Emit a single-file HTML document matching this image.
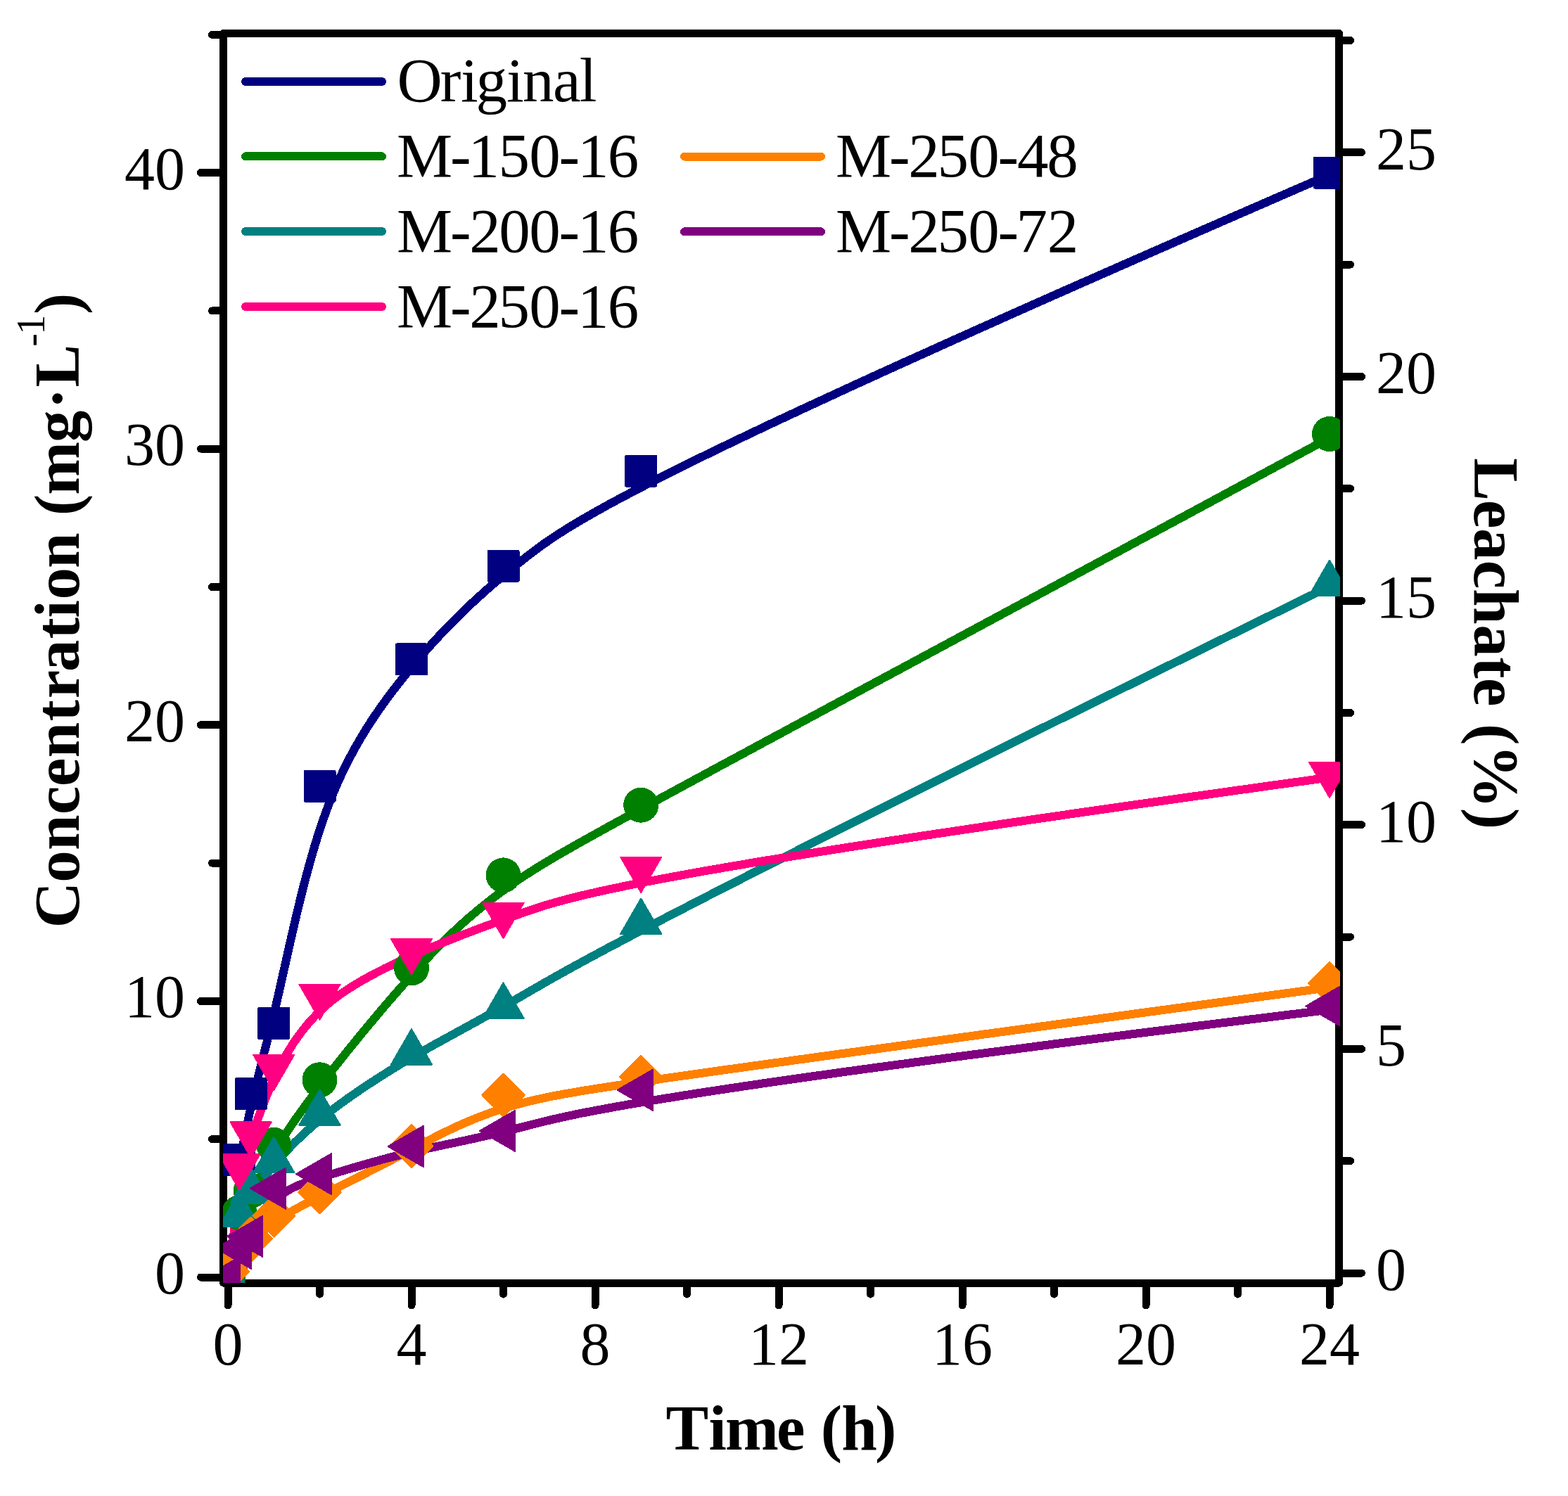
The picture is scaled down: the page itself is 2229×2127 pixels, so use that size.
<!DOCTYPE html>
<html><head><meta charset="utf-8"><style>
html,body{margin:0;padding:0;background:#fff;}
svg{display:block;}
path,rect,circle,polygon,line{shape-rendering:crispEdges;}
text{font-family:"Liberation Serif","Times New Roman",serif;fill:#000;}
</style></head><body>
<svg width="2229" height="2127" viewBox="0 0 2229 2127">
<rect width="2229" height="2127" fill="#fff"/>
<defs><clipPath id="pc"><rect x="317" y="47.5" width="1588" height="1776.5"/></clipPath></defs>

<path d="M317.5,47.5 H1903.5 V1824.0 H317.5 Z" fill="none" stroke="#000" stroke-width="11" stroke-linejoin="round"/>
<path d="M312.0,1816.0 H285.5 M312.0,1619.7 H301.5 M312.0,1423.4 H285.5 M312.0,1227.1 H301.5 M312.0,1030.8 H285.5 M312.0,834.5 H301.5 M312.0,638.2 H285.5 M312.0,441.9 H301.5 M312.0,245.6 H285.5 M312.0,49.3 H301.5 M1909.0,1810.0 H1935.5 M1909.0,1650.7 H1919.5 M1909.0,1491.3 H1935.5 M1909.0,1332.0 H1919.5 M1909.0,1172.7 H1935.5 M1909.0,1013.4 H1919.5 M1909.0,854.1 H1935.5 M1909.0,694.7 H1919.5 M1909.0,535.4 H1935.5 M1909.0,376.1 H1919.5 M1909.0,216.8 H1935.5 M1909.0,57.4 H1919.5 M324.0,1829.5 V1856.0 M454.5,1829.5 V1840.0 M585.0,1829.5 V1856.0 M715.5,1829.5 V1840.0 M846.0,1829.5 V1856.0 M976.5,1829.5 V1840.0 M1107.0,1829.5 V1856.0 M1237.5,1829.5 V1840.0 M1368.0,1829.5 V1856.0 M1498.5,1829.5 V1840.0 M1629.0,1829.5 V1856.0 M1759.5,1829.5 V1840.0 M1890.0,1829.5 V1856.0" fill="none" stroke="#000" stroke-width="11" stroke-linecap="round"/>
<text x="263" y="1839.0" font-size="86" text-anchor="end">0</text>
<text x="263" y="1446.4" font-size="86" text-anchor="end">10</text>
<text x="263" y="1053.8" font-size="86" text-anchor="end">20</text>
<text x="263" y="661.2" font-size="86" text-anchor="end">30</text>
<text x="263" y="268.6" font-size="86" text-anchor="end">40</text>
<text x="1956" y="1834.0" font-size="86">0</text>
<text x="1956" y="1515.3" font-size="86">5</text>
<text x="1956" y="1196.7" font-size="86">10</text>
<text x="1956" y="878.1" font-size="86">15</text>
<text x="1956" y="559.4" font-size="86">20</text>
<text x="1956" y="240.8" font-size="86">25</text>
<text x="324.0" y="1939.5" font-size="86" text-anchor="middle">0</text>
<text x="585.0" y="1939.5" font-size="86" text-anchor="middle">4</text>
<text x="846.0" y="1939.5" font-size="86" text-anchor="middle">8</text>
<text x="1107.0" y="1939.5" font-size="86" text-anchor="middle">12</text>
<text x="1368.0" y="1939.5" font-size="86" text-anchor="middle">16</text>
<text x="1629.0" y="1939.5" font-size="86" text-anchor="middle">20</text>
<text x="1890.0" y="1939.5" font-size="86" text-anchor="middle">24</text>
<text x="946.6 1007.4 1031.1 1103.9 1144.3 1166.7 1196.3 1243.9" y="2061.4" font-size="91" font-weight="bold">Time (h)</text>
<text transform="translate(111.8,0) rotate(-90)" font-size="91" font-weight="bold"><tspan x="-1319.6 -1254.8 -1208.9 -1158.1 -1118.1 -1077.5 -1025.6 -993.2 -955.0 -908.6 -878.6 -852.5 -808.0 -757.4 -732.9 -703.8 -628.9 -581.7 -550.5" y="0">Concentration (mg·L</tspan><tspan x="-492.8 -475.8" y="-48.9" font-size="56" font-weight="normal">-1</tspan><tspan x="-447.0" y="0">)</tspan></text>
<text transform="translate(2096,0) rotate(90)" x="651.2 711.0 750.9 796.7 837.1 888.2 934.3 964.1 1004.5 1028.9 1058.5 1148.7" y="0" font-size="91" font-weight="bold">Leachate (%)</text>
<g clip-path="url(#pc)">
<path d="M341.3,1651.3 L342.3,1645.5 L343.4,1639.8 L344.4,1634.2 L345.4,1628.7 L346.4,1623.4 L347.4,1618.1 L348.5,1612.9 L349.5,1607.8 L350.5,1602.8 L351.5,1597.8 L352.6,1592.9 L353.6,1588.1 L354.6,1583.4 L355.7,1578.7 L356.7,1574.0 L357.7,1569.5 L358.8,1564.9 L359.8,1560.4 L360.9,1556.0 L361.9,1551.6 L363.0,1547.2 L364.0,1542.8 L365.1,1538.5 L366.1,1534.2 L367.2,1529.9 L368.3,1525.6 L369.3,1521.3 L370.4,1517.1 L371.5,1512.8 L372.6,1508.5 L373.7,1504.2 L374.7,1500.0 L375.8,1495.6 L376.9,1491.3 L378.1,1486.9 L379.2,1482.6 L380.3,1478.1 L381.4,1473.7 L382.5,1469.2 L383.7,1464.6 L384.8,1460.1 L386.0,1455.4 L387.1,1450.7 L388.3,1446.0 L389.4,1441.1 L390.6,1436.2 L391.8,1431.3 L393.0,1426.2 L394.2,1421.1 L395.4,1415.9 L396.6,1410.6 L397.8,1405.3 L399.0,1399.9 L400.2,1394.4 L401.5,1388.8 L402.7,1383.2 L404.0,1377.6 L405.3,1371.9 L406.6,1366.1 L407.9,1360.3 L409.2,1354.4 L410.5,1348.5 L411.9,1342.6 L413.2,1336.7 L414.6,1330.7 L416.0,1324.6 L417.4,1318.6 L418.8,1312.5 L420.2,1306.4 L421.6,1300.3 L423.1,1294.2 L424.6,1288.1 L426.1,1281.9 L427.6,1275.8 L429.1,1269.7 L430.7,1263.5 L432.2,1257.4 L433.8,1251.3 L435.4,1245.2 L437.1,1239.1 L438.7,1233.0 L440.4,1227.0 L442.1,1220.9 L443.8,1214.9 L445.6,1209.0 L447.3,1203.0 L449.1,1197.1 L450.9,1191.3 L452.8,1185.5 L454.6,1179.7 L456.5,1174.0 L458.4,1168.3 L460.4,1162.7 L462.4,1157.2 L464.4,1151.7 L466.4,1146.2 L468.4,1140.9 L470.5,1135.6 L472.6,1130.4 L474.8,1125.2 L476.9,1120.1 L479.1,1115.1 L481.3,1110.1 L483.5,1105.2 L485.8,1100.4 L488.1,1095.6 L490.4,1090.9 L492.7,1086.2 L495.1,1081.6 L497.4,1077.0 L499.8,1072.5 L502.2,1068.0 L504.6,1063.6 L507.1,1059.3 L509.6,1055.0 L512.0,1050.7 L514.5,1046.5 L517.0,1042.4 L519.6,1038.3 L522.1,1034.2 L524.7,1030.2 L527.2,1026.2 L529.8,1022.3 L532.4,1018.4 L535.0,1014.6 L537.6,1010.8 L540.3,1007.0 L542.9,1003.2 L545.6,999.5 L548.2,995.9 L550.9,992.3 L553.5,988.7 L556.2,985.1 L558.9,981.6 L561.6,978.1 L564.3,974.6 L567.0,971.2 L569.7,967.7 L572.4,964.4 L575.1,961.0 L577.8,957.7 L580.6,954.3 L583.3,951.0 L586.0,947.8 L588.7,944.5 L591.4,941.3 L594.2,938.1 L596.9,934.9 L599.6,931.7 L602.4,928.6 L605.1,925.4 L607.9,922.3 L610.6,919.2 L613.4,916.0 L616.2,912.9 L619.0,909.8 L621.9,906.8 L624.7,903.7 L627.6,900.6 L630.5,897.5 L633.4,894.5 L636.4,891.4 L639.3,888.4 L642.3,885.3 L645.4,882.2 L648.4,879.2 L651.5,876.1 L654.6,873.0 L657.8,870.0 L661.0,866.9 L664.2,863.8 L667.5,860.7 L670.8,857.6 L674.2,854.5 L677.6,851.4 L681.1,848.2 L684.6,845.1 L688.1,841.9 L691.7,838.7 L695.3,835.5 L699.0,832.3 L702.8,829.1 L706.6,825.8 L710.5,822.6 L714.4,819.3 L718.4,816.0 L722.5,812.6 L726.6,809.3 L730.7,805.9 L735.0,802.4 L739.3,799.0 L743.7,795.5 L748.1,792.0 L752.7,788.4 L757.5,784.8 L762.4,781.1 L767.6,777.3 L773.1,773.3 L779.0,769.3 L785.2,765.0 L791.9,760.6 L799.1,756.0 L806.8,751.1 L815.1,746.0 L824.1,740.7 L833.7,735.1 L844.0,729.2 L855.1,723.0 L866.9,716.4 L879.7,709.6 L893.4,702.3 L908.0,694.7 L923.6,686.6 L940.2,678.1 L957.9,669.2 L976.8,659.9 L996.9,650.0 L1018.2,639.7 L1040.7,628.8 L1064.6,617.4 L1089.8,605.4 L1116.5,592.9 L1144.6,579.8 L1174.3,566.1 L1205.4,551.7 L1238.2,536.7 L1272.6,521.0 L1308.8,504.7 L1346.6,487.6 L1386.3,469.8 L1427.7,451.3 L1471.1,432.0 L1516.4,411.9 L1563.6,391.1 L1612.9,369.4 L1664.2,346.9 L1717.6,323.5 L1773.2,299.3 L1831.0,274.1 L1891.0,248.1" fill="none" stroke="#000080" stroke-width="12" stroke-linejoin="round" stroke-linecap="butt"/>
<path d="M325.0,1821.0 L326.2,1814.3 L327.4,1807.8 L328.5,1801.6 L329.7,1795.7 L330.8,1790.0 L331.8,1784.5 L332.9,1779.4 L333.9,1774.4 L334.9,1769.7 L335.9,1765.2 L336.8,1760.9 L337.7,1756.8 L338.6,1752.9 L339.5,1749.2 L340.4,1745.7 L341.3,1742.3 L342.1,1739.1 L342.9,1736.1 L343.7,1733.3 L344.5,1730.5 L345.3,1727.9 L346.1,1725.5 L346.9,1723.2 L347.6,1720.9 L348.4,1718.8 L349.1,1716.8 L349.8,1714.9 L350.5,1713.1 L351.2,1711.3 L352.0,1709.6 L352.7,1708.0 L353.4,1706.4 L354.1,1704.9 L354.8,1703.4 L355.5,1702.0 L356.2,1700.6 L356.9,1699.2 L357.6,1697.8 L358.3,1696.4 L359.0,1695.0 L359.7,1693.6 L360.4,1692.2 L361.2,1690.8 L361.9,1689.3 L362.6,1687.9 L363.4,1686.4 L364.1,1684.9 L364.9,1683.5 L365.7,1682.0 L366.4,1680.4 L367.2,1678.9 L368.0,1677.4 L368.8,1675.8 L369.7,1674.3 L370.5,1672.7 L371.3,1671.1 L372.2,1669.5 L373.0,1667.9 L373.9,1666.2 L374.8,1664.6 L375.7,1662.9 L376.6,1661.2 L377.5,1659.5 L378.5,1657.8 L379.4,1656.1 L380.4,1654.4 L381.4,1652.6 L382.4,1650.8 L383.4,1649.1 L384.4,1647.3 L385.5,1645.4 L386.5,1643.6 L387.6,1641.8 L388.7,1639.9 L389.8,1638.0 L391.0,1636.1 L392.1,1634.2 L393.3,1632.3 L394.5,1630.3 L395.7,1628.4 L396.9,1626.4 L398.2,1624.4 L399.5,1622.4 L400.7,1620.3 L402.1,1618.3 L403.4,1616.2 L404.8,1614.1 L406.2,1612.0 L407.6,1609.8 L409.0,1607.7 L410.5,1605.5 L412.0,1603.3 L413.5,1601.0 L415.0,1598.8 L416.6,1596.5 L418.2,1594.2 L419.8,1591.8 L421.5,1589.5 L423.2,1587.1 L424.9,1584.7 L426.7,1582.2 L428.4,1579.7 L430.3,1577.2 L432.1,1574.7 L434.0,1572.1 L435.9,1569.5 L437.8,1566.8 L439.8,1564.2 L441.8,1561.5 L443.9,1558.7 L445.9,1555.9 L448.1,1553.1 L450.2,1550.3 L452.4,1547.4 L454.6,1544.5 L456.9,1541.5 L459.2,1538.5 L461.6,1535.4 L463.9,1532.4 L466.4,1529.2 L468.8,1526.1 L471.3,1522.9 L473.9,1519.6 L476.5,1516.3 L479.1,1513.0 L481.8,1509.7 L484.4,1506.3 L487.2,1502.9 L489.9,1499.4 L492.7,1495.9 L495.5,1492.4 L498.4,1488.9 L501.3,1485.4 L504.2,1481.8 L507.1,1478.2 L510.0,1474.6 L513.0,1471.0 L516.0,1467.3 L519.1,1463.6 L522.1,1460.0 L525.2,1456.3 L528.3,1452.6 L531.4,1448.9 L534.5,1445.2 L537.6,1441.4 L540.8,1437.7 L544.0,1434.0 L547.1,1430.2 L550.3,1426.5 L553.5,1422.8 L556.8,1419.0 L560.0,1415.3 L563.2,1411.6 L566.5,1407.9 L569.7,1404.2 L573.0,1400.5 L576.2,1396.8 L579.5,1393.1 L582.7,1389.4 L586.0,1385.8 L589.3,1382.2 L592.5,1378.6 L595.8,1375.0 L599.1,1371.4 L602.4,1367.8 L605.7,1364.3 L609.0,1360.7 L612.3,1357.2 L615.7,1353.7 L619.0,1350.2 L622.5,1346.7 L625.9,1343.2 L629.3,1339.7 L632.8,1336.2 L636.4,1332.8 L639.9,1329.3 L643.5,1325.9 L647.2,1322.4 L650.9,1319.0 L654.6,1315.5 L658.4,1312.1 L662.3,1308.7 L666.2,1305.2 L670.2,1301.8 L674.2,1298.4 L678.3,1294.9 L682.4,1291.5 L686.7,1288.1 L691.0,1284.6 L695.3,1281.2 L699.8,1277.7 L704.3,1274.3 L708.9,1270.8 L713.6,1267.4 L718.4,1263.9 L723.3,1260.4 L728.2,1256.9 L733.3,1253.4 L738.4,1249.9 L743.7,1246.4 L749.1,1242.9 L754.6,1239.3 L760.4,1235.6 L766.6,1231.8 L773.1,1227.8 L780.2,1223.5 L787.9,1219.0 L796.2,1214.1 L805.3,1208.9 L815.1,1203.3 L825.9,1197.2 L837.7,1190.6 L850.5,1183.5 L864.5,1175.7 L879.7,1167.4 L896.2,1158.3 L914.1,1148.6 L933.4,1138.0 L954.3,1126.7 L976.8,1114.5 L1001.0,1101.4 L1027.0,1087.3 L1054.9,1072.3 L1084.7,1056.2 L1116.5,1039.1 L1150.4,1020.8 L1186.5,1001.4 L1224.9,980.7 L1265.6,958.8 L1308.8,935.6 L1354.4,911.0 L1402.6,885.1 L1453.5,857.7 L1507.1,828.8 L1563.6,798.4 L1622.9,766.4 L1685.3,732.9 L1750.7,697.6 L1819.2,660.7 L1891.0,622.0" fill="none" stroke="#008000" stroke-width="12" stroke-linejoin="round" stroke-linecap="butt"/>
<path d="M325.0,1819.0 L326.2,1812.5 L327.4,1806.2 L328.5,1800.2 L329.7,1794.5 L330.8,1789.0 L331.8,1783.7 L332.9,1778.7 L333.9,1773.8 L334.9,1769.2 L335.9,1764.9 L336.8,1760.7 L337.7,1756.7 L338.6,1752.9 L339.5,1749.3 L340.4,1745.8 L341.3,1742.6 L342.1,1739.5 L342.9,1736.5 L343.7,1733.7 L344.5,1731.1 L345.3,1728.6 L346.1,1726.2 L346.9,1723.9 L347.6,1721.8 L348.4,1719.7 L349.1,1717.8 L349.8,1716.0 L350.5,1714.2 L351.2,1712.6 L352.0,1711.0 L352.7,1709.5 L353.4,1708.0 L354.1,1706.7 L354.8,1705.3 L355.5,1704.0 L356.2,1702.8 L356.9,1701.5 L357.6,1700.3 L358.3,1699.2 L359.0,1698.0 L359.7,1696.8 L360.4,1695.6 L361.2,1694.5 L361.9,1693.3 L362.6,1692.2 L363.4,1691.0 L364.1,1689.9 L364.9,1688.7 L365.7,1687.6 L366.4,1686.4 L367.2,1685.2 L368.0,1684.1 L368.8,1682.9 L369.7,1681.8 L370.5,1680.6 L371.3,1679.4 L372.2,1678.3 L373.0,1677.1 L373.9,1675.9 L374.8,1674.7 L375.7,1673.6 L376.6,1672.4 L377.5,1671.2 L378.5,1670.0 L379.4,1668.7 L380.4,1667.5 L381.4,1666.3 L382.4,1665.1 L383.4,1663.8 L384.4,1662.6 L385.5,1661.3 L386.5,1660.0 L387.6,1658.7 L388.7,1657.4 L389.8,1656.1 L391.0,1654.8 L392.1,1653.4 L393.3,1652.1 L394.5,1650.7 L395.7,1649.3 L396.9,1647.9 L398.2,1646.5 L399.5,1645.1 L400.7,1643.7 L402.1,1642.2 L403.4,1640.7 L404.8,1639.2 L406.2,1637.7 L407.6,1636.2 L409.0,1634.7 L410.5,1633.2 L412.0,1631.6 L413.5,1630.0 L415.0,1628.5 L416.6,1626.9 L418.2,1625.3 L419.8,1623.6 L421.5,1622.0 L423.2,1620.3 L424.9,1618.7 L426.7,1617.0 L428.4,1615.3 L430.3,1613.6 L432.1,1611.9 L434.0,1610.2 L435.9,1608.4 L437.8,1606.7 L439.8,1604.9 L441.8,1603.1 L443.9,1601.3 L445.9,1599.5 L448.1,1597.7 L450.2,1595.9 L452.4,1594.0 L454.6,1592.2 L456.9,1590.3 L459.2,1588.4 L461.6,1586.5 L463.9,1584.6 L466.4,1582.7 L468.8,1580.8 L471.3,1578.9 L473.9,1576.9 L476.5,1575.0 L479.1,1573.0 L481.8,1571.0 L484.4,1569.0 L487.2,1567.1 L489.9,1565.1 L492.7,1563.1 L495.5,1561.0 L498.4,1559.0 L501.3,1557.0 L504.2,1555.0 L507.1,1553.0 L510.0,1551.0 L513.0,1548.9 L516.0,1546.9 L519.1,1544.9 L522.1,1542.8 L525.2,1540.8 L528.3,1538.8 L531.4,1536.8 L534.5,1534.7 L537.6,1532.7 L540.8,1530.7 L544.0,1528.7 L547.1,1526.7 L550.3,1524.7 L553.5,1522.7 L556.8,1520.7 L560.0,1518.7 L563.2,1516.7 L566.5,1514.8 L569.7,1512.8 L573.0,1510.8 L576.2,1508.9 L579.5,1507.0 L582.7,1505.1 L586.0,1503.2 L589.3,1501.3 L592.5,1499.4 L595.8,1497.5 L599.1,1495.6 L602.4,1493.8 L605.7,1491.9 L609.0,1490.0 L612.3,1488.2 L615.7,1486.3 L619.0,1484.4 L622.5,1482.6 L625.9,1480.7 L629.3,1478.8 L632.8,1476.8 L636.4,1474.9 L639.9,1472.9 L643.5,1471.0 L647.2,1469.0 L650.9,1466.9 L654.6,1464.9 L658.4,1462.8 L662.3,1460.7 L666.2,1458.5 L670.2,1456.4 L674.2,1454.1 L678.3,1451.9 L682.4,1449.6 L686.7,1447.2 L691.0,1444.8 L695.3,1442.4 L699.8,1439.9 L704.3,1437.4 L708.9,1434.8 L713.6,1432.1 L718.4,1429.4 L723.3,1426.6 L728.2,1423.8 L733.3,1420.9 L738.4,1418.0 L743.7,1414.9 L749.1,1411.8 L754.6,1408.6 L760.4,1405.2 L766.6,1401.7 L773.1,1397.9 L780.2,1393.9 L787.9,1389.5 L796.2,1384.9 L805.3,1379.8 L815.1,1374.4 L825.9,1368.5 L837.7,1362.1 L850.5,1355.2 L864.5,1347.7 L879.7,1339.7 L896.2,1331.0 L914.1,1321.6 L933.4,1311.5 L954.3,1300.7 L976.8,1289.1 L1001.0,1276.6 L1027.0,1263.3 L1054.9,1249.1 L1084.7,1233.9 L1116.5,1217.8 L1150.4,1200.7 L1186.5,1182.5 L1224.9,1163.2 L1265.6,1142.8 L1308.8,1121.2 L1354.4,1098.4 L1402.6,1074.4 L1453.5,1049.1 L1507.1,1022.5 L1563.6,994.6 L1622.9,965.2 L1685.3,934.5 L1750.7,902.2 L1819.2,868.5 L1891.0,833.2" fill="none" stroke="#008080" stroke-width="12" stroke-linejoin="round" stroke-linecap="butt"/>
<path d="M325.0,1821.0 L326.2,1809.4 L327.4,1798.3 L328.5,1787.7 L329.7,1777.6 L330.8,1767.9 L331.8,1758.6 L332.9,1749.8 L333.9,1741.4 L334.9,1733.4 L335.9,1725.7 L336.8,1718.5 L337.7,1711.6 L338.6,1705.1 L339.5,1698.9 L340.4,1693.0 L341.3,1687.4 L342.1,1682.2 L342.9,1677.2 L343.7,1672.4 L344.5,1668.0 L345.3,1663.8 L346.1,1659.8 L346.9,1656.0 L347.6,1652.5 L348.4,1649.1 L349.1,1645.9 L349.8,1642.9 L350.5,1640.0 L351.2,1637.3 L352.0,1634.7 L352.7,1632.2 L353.4,1629.8 L354.1,1627.5 L354.8,1625.3 L355.5,1623.1 L356.2,1621.0 L356.9,1618.9 L357.6,1616.9 L358.3,1614.8 L359.0,1612.8 L359.7,1610.7 L360.4,1608.6 L361.2,1606.5 L361.9,1604.4 L362.6,1602.3 L363.4,1600.1 L364.1,1598.0 L364.9,1595.8 L365.7,1593.6 L366.4,1591.4 L367.2,1589.2 L368.0,1586.9 L368.8,1584.7 L369.7,1582.5 L370.5,1580.2 L371.3,1577.9 L372.2,1575.6 L373.0,1573.3 L373.9,1571.0 L374.8,1568.7 L375.7,1566.4 L376.6,1564.0 L377.5,1561.7 L378.5,1559.3 L379.4,1557.0 L380.4,1554.6 L381.4,1552.2 L382.4,1549.8 L383.4,1547.4 L384.4,1545.0 L385.5,1542.6 L386.5,1540.2 L387.6,1537.8 L388.7,1535.4 L389.8,1532.9 L391.0,1530.5 L392.1,1528.1 L393.3,1525.6 L394.5,1523.2 L395.7,1520.7 L396.9,1518.3 L398.2,1515.8 L399.5,1513.4 L400.7,1510.9 L402.1,1508.5 L403.4,1506.0 L404.8,1503.6 L406.2,1501.1 L407.6,1498.7 L409.0,1496.2 L410.5,1493.8 L412.0,1491.3 L413.5,1488.9 L415.0,1486.5 L416.6,1484.0 L418.2,1481.6 L419.8,1479.2 L421.5,1476.8 L423.2,1474.4 L424.9,1472.0 L426.7,1469.7 L428.4,1467.3 L430.3,1464.9 L432.1,1462.6 L434.0,1460.3 L435.9,1458.0 L437.8,1455.7 L439.8,1453.4 L441.8,1451.1 L443.9,1448.8 L445.9,1446.6 L448.1,1444.4 L450.2,1442.2 L452.4,1440.0 L454.6,1437.8 L456.9,1435.6 L459.2,1433.5 L461.6,1431.4 L463.9,1429.3 L466.4,1427.2 L468.8,1425.2 L471.3,1423.1 L473.9,1421.1 L476.5,1419.2 L479.1,1417.2 L481.8,1415.2 L484.4,1413.3 L487.2,1411.4 L489.9,1409.5 L492.7,1407.7 L495.5,1405.8 L498.4,1404.0 L501.3,1402.2 L504.2,1400.4 L507.1,1398.6 L510.0,1396.8 L513.0,1395.1 L516.0,1393.4 L519.1,1391.7 L522.1,1390.0 L525.2,1388.3 L528.3,1386.6 L531.4,1385.0 L534.5,1383.3 L537.6,1381.7 L540.8,1380.1 L544.0,1378.5 L547.1,1376.9 L550.3,1375.4 L553.5,1373.8 L556.8,1372.3 L560.0,1370.7 L563.2,1369.2 L566.5,1367.7 L569.7,1366.2 L573.0,1364.7 L576.2,1363.2 L579.5,1361.8 L582.7,1360.3 L586.0,1358.8 L589.3,1357.4 L592.5,1356.0 L595.8,1354.5 L599.1,1353.1 L602.4,1351.7 L605.7,1350.3 L609.0,1348.9 L612.3,1347.5 L615.7,1346.0 L619.0,1344.6 L622.5,1343.2 L625.9,1341.8 L629.3,1340.4 L632.8,1339.0 L636.4,1337.6 L639.9,1336.1 L643.5,1334.7 L647.2,1333.3 L650.9,1331.8 L654.6,1330.3 L658.4,1328.9 L662.3,1327.4 L666.2,1325.9 L670.2,1324.4 L674.2,1322.9 L678.3,1321.3 L682.4,1319.8 L686.7,1318.2 L691.0,1316.6 L695.3,1315.0 L699.8,1313.4 L704.3,1311.8 L708.9,1310.1 L713.6,1308.4 L718.4,1306.7 L723.3,1304.9 L728.2,1303.2 L733.3,1301.4 L738.4,1299.6 L743.7,1297.7 L749.1,1295.9 L754.6,1293.9 L760.4,1292.0 L766.6,1290.0 L773.1,1287.9 L780.2,1285.7 L787.9,1283.5 L796.2,1281.2 L805.3,1278.7 L815.1,1276.2 L825.9,1273.5 L837.7,1270.8 L850.5,1267.8 L864.5,1264.8 L879.7,1261.6 L896.2,1258.2 L914.1,1254.6 L933.4,1250.9 L954.3,1247.0 L976.8,1242.9 L1001.0,1238.5 L1027.0,1234.0 L1054.9,1229.2 L1084.7,1224.2 L1116.5,1219.0 L1150.4,1213.5 L1186.5,1207.7 L1224.9,1201.7 L1265.6,1195.4 L1308.8,1188.8 L1354.4,1182.0 L1402.6,1174.8 L1453.5,1167.3 L1507.1,1159.5 L1563.6,1151.3 L1622.9,1142.8 L1685.3,1134.0 L1750.7,1124.8 L1819.2,1115.2 L1891.0,1105.3" fill="none" stroke="#FF0080" stroke-width="12" stroke-linejoin="round" stroke-linecap="butt"/>
<path d="M325.0,1813.6 L326.2,1811.6 L327.4,1809.7 L328.5,1807.8 L329.7,1805.9 L330.8,1804.1 L331.8,1802.4 L332.9,1800.7 L333.9,1799.1 L334.9,1797.6 L335.9,1796.1 L336.8,1794.6 L337.7,1793.2 L338.6,1791.8 L339.5,1790.5 L340.4,1789.2 L341.3,1788.0 L342.1,1786.8 L342.9,1785.6 L343.7,1784.5 L344.5,1783.4 L345.3,1782.3 L346.1,1781.3 L346.9,1780.3 L347.6,1779.3 L348.4,1778.4 L349.1,1777.5 L349.8,1776.6 L350.5,1775.7 L351.2,1774.8 L352.0,1774.0 L352.7,1773.1 L353.4,1772.3 L354.1,1771.5 L354.8,1770.7 L355.5,1769.9 L356.2,1769.1 L356.9,1768.3 L357.6,1767.6 L358.3,1766.8 L359.0,1766.0 L359.7,1765.2 L360.4,1764.5 L361.2,1763.7 L361.9,1762.9 L362.6,1762.1 L363.4,1761.3 L364.1,1760.5 L364.9,1759.7 L365.7,1759.0 L366.4,1758.2 L367.2,1757.4 L368.0,1756.6 L368.8,1755.8 L369.7,1755.0 L370.5,1754.2 L371.3,1753.4 L372.2,1752.6 L373.0,1751.8 L373.9,1751.0 L374.8,1750.2 L375.7,1749.4 L376.6,1748.5 L377.5,1747.7 L378.5,1746.9 L379.4,1746.1 L380.4,1745.3 L381.4,1744.5 L382.4,1743.7 L383.4,1742.9 L384.4,1742.0 L385.5,1741.2 L386.5,1740.4 L387.6,1739.6 L388.7,1738.8 L389.8,1737.9 L391.0,1737.1 L392.1,1736.3 L393.3,1735.5 L394.5,1734.6 L395.7,1733.8 L396.9,1733.0 L398.2,1732.2 L399.5,1731.3 L400.7,1730.5 L402.1,1729.7 L403.4,1728.8 L404.8,1728.0 L406.2,1727.2 L407.6,1726.3 L409.0,1725.5 L410.5,1724.6 L412.0,1723.7 L413.5,1722.9 L415.0,1722.0 L416.6,1721.1 L418.2,1720.2 L419.8,1719.3 L421.5,1718.4 L423.2,1717.5 L424.9,1716.6 L426.7,1715.6 L428.4,1714.7 L430.3,1713.7 L432.1,1712.8 L434.0,1711.8 L435.9,1710.8 L437.8,1709.8 L439.8,1708.7 L441.8,1707.7 L443.9,1706.7 L445.9,1705.6 L448.1,1704.5 L450.2,1703.4 L452.4,1702.3 L454.6,1701.2 L456.9,1700.0 L459.2,1698.8 L461.6,1697.6 L463.9,1696.4 L466.4,1695.2 L468.8,1694.0 L471.3,1692.7 L473.9,1691.4 L476.5,1690.1 L479.1,1688.8 L481.8,1687.4 L484.4,1686.1 L487.2,1684.7 L489.9,1683.3 L492.7,1681.9 L495.5,1680.5 L498.4,1679.0 L501.3,1677.6 L504.2,1676.1 L507.1,1674.6 L510.0,1673.1 L513.0,1671.6 L516.0,1670.1 L519.1,1668.5 L522.1,1667.0 L525.2,1665.4 L528.3,1663.8 L531.4,1662.2 L534.5,1660.6 L537.6,1659.0 L540.8,1657.4 L544.0,1655.8 L547.1,1654.1 L550.3,1652.5 L553.5,1650.8 L556.8,1649.2 L560.0,1647.5 L563.2,1645.8 L566.5,1644.1 L569.7,1642.4 L573.0,1640.7 L576.2,1639.0 L579.5,1637.3 L582.7,1635.6 L586.0,1633.8 L589.3,1632.1 L592.5,1630.4 L595.8,1628.6 L599.1,1626.9 L602.4,1625.2 L605.7,1623.4 L609.0,1621.7 L612.3,1619.9 L615.7,1618.2 L619.0,1616.4 L622.5,1614.7 L625.9,1613.0 L629.3,1611.2 L632.8,1609.5 L636.4,1607.8 L639.9,1606.1 L643.5,1604.4 L647.2,1602.6 L650.9,1600.9 L654.6,1599.3 L658.4,1597.6 L662.3,1595.9 L666.2,1594.2 L670.2,1592.6 L674.2,1590.9 L678.3,1589.3 L682.4,1587.7 L686.7,1586.1 L691.0,1584.5 L695.3,1582.9 L699.8,1581.3 L704.3,1579.8 L708.9,1578.2 L713.6,1576.7 L718.4,1575.2 L723.3,1573.7 L728.2,1572.3 L733.3,1570.8 L738.4,1569.4 L743.7,1568.0 L749.1,1566.6 L754.6,1565.3 L760.4,1563.9 L766.6,1562.5 L773.1,1561.1 L780.2,1559.6 L787.9,1558.1 L796.2,1556.5 L805.3,1554.9 L815.1,1553.2 L825.9,1551.3 L837.7,1549.4 L850.5,1547.4 L864.5,1545.2 L879.7,1542.9 L896.2,1540.4 L914.1,1537.7 L933.4,1534.9 L954.3,1531.9 L976.8,1528.7 L1001.0,1525.3 L1027.0,1521.6 L1054.9,1517.7 L1084.7,1513.6 L1116.5,1509.2 L1150.4,1504.5 L1186.5,1499.5 L1224.9,1494.3 L1265.6,1488.7 L1308.8,1482.8 L1354.4,1476.6 L1402.6,1470.0 L1453.5,1463.1 L1507.1,1455.8 L1563.6,1448.2 L1622.9,1440.1 L1685.3,1431.7 L1750.7,1422.8 L1819.2,1413.5 L1891.0,1403.8" fill="none" stroke="#FF8000" stroke-width="12" stroke-linejoin="round" stroke-linecap="butt"/>
<path d="M325.0,1821.0 L326.2,1818.0 L327.4,1815.1 L328.5,1812.3 L329.7,1809.6 L330.8,1807.0 L331.8,1804.5 L332.9,1802.2 L333.9,1799.9 L334.9,1797.7 L335.9,1795.6 L336.8,1793.6 L337.7,1791.7 L338.6,1789.8 L339.5,1788.1 L340.4,1786.3 L341.3,1784.7 L342.1,1783.1 L342.9,1781.6 L343.7,1780.2 L344.5,1778.8 L345.3,1777.4 L346.1,1776.1 L346.9,1774.8 L347.6,1773.6 L348.4,1772.4 L349.1,1771.2 L349.8,1770.0 L350.5,1768.9 L351.2,1767.8 L352.0,1766.7 L352.7,1765.6 L353.4,1764.6 L354.1,1763.5 L354.8,1762.4 L355.5,1761.3 L356.2,1760.2 L356.9,1759.1 L357.6,1758.0 L358.3,1756.9 L359.0,1755.7 L359.7,1754.5 L360.4,1753.3 L361.2,1752.1 L361.9,1750.8 L362.6,1749.6 L363.4,1748.3 L364.1,1747.0 L364.9,1745.6 L365.7,1744.3 L366.4,1742.9 L367.2,1741.5 L368.0,1740.2 L368.8,1738.8 L369.7,1737.4 L370.5,1735.9 L371.3,1734.5 L372.2,1733.1 L373.0,1731.7 L373.9,1730.3 L374.8,1728.8 L375.7,1727.4 L376.6,1726.0 L377.5,1724.6 L378.5,1723.2 L379.4,1721.8 L380.4,1720.4 L381.4,1719.0 L382.4,1717.6 L383.4,1716.3 L384.4,1714.9 L385.5,1713.6 L386.5,1712.3 L387.6,1711.0 L388.7,1709.7 L389.8,1708.5 L391.0,1707.2 L392.1,1706.0 L393.3,1704.8 L394.5,1703.7 L395.7,1702.6 L396.9,1701.5 L398.2,1700.4 L399.5,1699.4 L400.7,1698.4 L402.1,1697.4 L403.4,1696.4 L404.8,1695.5 L406.2,1694.6 L407.6,1693.7 L409.0,1692.8 L410.5,1691.9 L412.0,1691.1 L413.5,1690.3 L415.0,1689.5 L416.6,1688.7 L418.2,1687.9 L419.8,1687.2 L421.5,1686.4 L423.2,1685.7 L424.9,1685.0 L426.7,1684.3 L428.4,1683.6 L430.3,1682.9 L432.1,1682.2 L434.0,1681.5 L435.9,1680.8 L437.8,1680.1 L439.8,1679.4 L441.8,1678.8 L443.9,1678.1 L445.9,1677.4 L448.1,1676.7 L450.2,1676.0 L452.4,1675.3 L454.6,1674.6 L456.9,1673.9 L459.2,1673.2 L461.6,1672.5 L463.9,1671.8 L466.4,1671.0 L468.8,1670.3 L471.3,1669.5 L473.9,1668.7 L476.5,1668.0 L479.1,1667.2 L481.8,1666.4 L484.4,1665.5 L487.2,1664.7 L489.9,1663.9 L492.7,1663.1 L495.5,1662.2 L498.4,1661.4 L501.3,1660.5 L504.2,1659.7 L507.1,1658.8 L510.0,1658.0 L513.0,1657.1 L516.0,1656.2 L519.1,1655.4 L522.1,1654.5 L525.2,1653.6 L528.3,1652.8 L531.4,1651.9 L534.5,1651.0 L537.6,1650.2 L540.8,1649.3 L544.0,1648.4 L547.1,1647.6 L550.3,1646.7 L553.5,1645.9 L556.8,1645.0 L560.0,1644.2 L563.2,1643.4 L566.5,1642.6 L569.7,1641.7 L573.0,1640.9 L576.2,1640.1 L579.5,1639.3 L582.7,1638.6 L586.0,1637.8 L589.3,1637.0 L592.5,1636.3 L595.8,1635.5 L599.1,1634.8 L602.4,1634.1 L605.7,1633.3 L609.0,1632.6 L612.3,1631.9 L615.7,1631.2 L619.0,1630.5 L622.5,1629.7 L625.9,1629.0 L629.3,1628.3 L632.8,1627.5 L636.4,1626.8 L639.9,1626.0 L643.5,1625.3 L647.2,1624.5 L650.9,1623.7 L654.6,1622.9 L658.4,1622.1 L662.3,1621.3 L666.2,1620.4 L670.2,1619.6 L674.2,1618.7 L678.3,1617.8 L682.4,1616.8 L686.7,1615.9 L691.0,1614.9 L695.3,1613.9 L699.8,1612.8 L704.3,1611.8 L708.9,1610.7 L713.6,1609.6 L718.4,1608.4 L723.3,1607.2 L728.2,1606.0 L733.3,1604.7 L738.4,1603.4 L743.7,1602.1 L749.1,1600.7 L754.6,1599.2 L760.4,1597.8 L766.6,1596.2 L773.1,1594.6 L780.2,1592.9 L787.9,1591.1 L796.2,1589.2 L805.3,1587.2 L815.1,1585.1 L825.9,1582.9 L837.7,1580.6 L850.5,1578.2 L864.5,1575.6 L879.7,1572.8 L896.2,1569.9 L914.1,1566.9 L933.4,1563.7 L954.3,1560.3 L976.8,1556.7 L1001.0,1552.9 L1027.0,1549.0 L1054.9,1544.8 L1084.7,1540.4 L1116.5,1535.8 L1150.4,1531.0 L1186.5,1525.9 L1224.9,1520.6 L1265.6,1515.1 L1308.8,1509.3 L1354.4,1503.2 L1402.6,1496.9 L1453.5,1490.3 L1507.1,1483.3 L1563.6,1476.1 L1622.9,1468.6 L1685.3,1460.8 L1750.7,1452.7 L1819.2,1444.3 L1891.0,1435.5" fill="none" stroke="#800080" stroke-width="12" stroke-linejoin="round" stroke-linecap="butt"/>
<rect x="317.3" y="1625.8" width="46" height="46" rx="2" fill="#000080"/>
<rect x="333.6" y="1532.3" width="46" height="46" rx="2" fill="#000080"/>
<rect x="366.2" y="1431.8" width="46" height="46" rx="2" fill="#000080"/>
<rect x="431.5" y="1094.6" width="46" height="46" rx="2" fill="#000080"/>
<rect x="562.0" y="914.4" width="46" height="46" rx="2" fill="#000080"/>
<rect x="692.5" y="781.7" width="46" height="46" rx="2" fill="#000080"/>
<rect x="888.2" y="646.6" width="46" height="46" rx="2" fill="#000080"/>
<rect x="1867.0" y="222.6" width="46" height="46" rx="2" fill="#000080"/>
<circle cx="324.0" cy="1816.0" r="25" fill="#008000"/>
<circle cx="340.3" cy="1724.1" r="25" fill="#008000"/>
<circle cx="356.6" cy="1693.1" r="25" fill="#008000"/>
<circle cx="389.2" cy="1627.9" r="25" fill="#008000"/>
<circle cx="454.5" cy="1535.3" r="25" fill="#008000"/>
<circle cx="585.0" cy="1376.3" r="25" fill="#008000"/>
<circle cx="715.5" cy="1244.4" r="25" fill="#008000"/>
<circle cx="911.2" cy="1144.7" r="25" fill="#008000"/>
<circle cx="1890.0" cy="617.0" r="25" fill="#008000"/>
<polygon points="324.0,1782.4 353.1,1832.8 294.9,1832.8" fill="#008080" stroke="#008080" stroke-width="2" stroke-linejoin="round"/>
<polygon points="340.3,1693.7 369.4,1744.1 311.2,1744.1" fill="#008080" stroke="#008080" stroke-width="2" stroke-linejoin="round"/>
<polygon points="356.6,1660.3 385.7,1710.7 327.5,1710.7" fill="#008080" stroke="#008080" stroke-width="2" stroke-linejoin="round"/>
<polygon points="389.2,1616.7 418.4,1667.1 360.1,1667.1" fill="#008080" stroke="#008080" stroke-width="2" stroke-linejoin="round"/>
<polygon points="454.5,1549.2 483.6,1599.6 425.4,1599.6" fill="#008080" stroke="#008080" stroke-width="2" stroke-linejoin="round"/>
<polygon points="585.0,1463.2 614.1,1513.6 555.9,1513.6" fill="#008080" stroke="#008080" stroke-width="2" stroke-linejoin="round"/>
<polygon points="715.5,1397.3 744.6,1447.7 686.4,1447.7" fill="#008080" stroke="#008080" stroke-width="2" stroke-linejoin="round"/>
<polygon points="911.2,1277.5 940.4,1327.9 882.1,1327.9" fill="#008080" stroke="#008080" stroke-width="2" stroke-linejoin="round"/>
<polygon points="1890.0,796.6 1919.1,847.0 1860.9,847.0" fill="#008080" stroke="#008080" stroke-width="2" stroke-linejoin="round"/>
<polygon points="324.0,1849.6 353.1,1799.2 294.9,1799.2" fill="#FF0080" stroke="#FF0080" stroke-width="2" stroke-linejoin="round"/>
<polygon points="340.3,1691.8 369.4,1641.4 311.2,1641.4" fill="#FF0080" stroke="#FF0080" stroke-width="2" stroke-linejoin="round"/>
<polygon points="356.6,1645.8 385.7,1595.4 327.5,1595.4" fill="#FF0080" stroke="#FF0080" stroke-width="2" stroke-linejoin="round"/>
<polygon points="389.2,1550.0 418.4,1499.6 360.1,1499.6" fill="#FF0080" stroke="#FF0080" stroke-width="2" stroke-linejoin="round"/>
<polygon points="454.5,1449.9 483.6,1399.5 425.4,1399.5" fill="#FF0080" stroke="#FF0080" stroke-width="2" stroke-linejoin="round"/>
<polygon points="585.0,1385.2 614.1,1334.8 555.9,1334.8" fill="#FF0080" stroke="#FF0080" stroke-width="2" stroke-linejoin="round"/>
<polygon points="715.5,1334.1 744.6,1283.7 686.4,1283.7" fill="#FF0080" stroke="#FF0080" stroke-width="2" stroke-linejoin="round"/>
<polygon points="911.2,1268.9 940.4,1218.5 882.1,1218.5" fill="#FF0080" stroke="#FF0080" stroke-width="2" stroke-linejoin="round"/>
<polygon points="1890.0,1133.9 1919.1,1083.5 1860.9,1083.5" fill="#FF0080" stroke="#FF0080" stroke-width="2" stroke-linejoin="round"/>
<polygon points="324.0,1777.9 354.2,1808.1 324.0,1838.3 293.8,1808.1" fill="#FF8000" stroke="#FF8000" stroke-width="2" stroke-linejoin="round"/>
<polygon points="340.3,1750.5 370.5,1780.7 340.3,1810.9 310.1,1780.7" fill="#FF8000" stroke="#FF8000" stroke-width="2" stroke-linejoin="round"/>
<polygon points="356.6,1730.8 386.8,1761.0 356.6,1791.2 326.4,1761.0" fill="#FF8000" stroke="#FF8000" stroke-width="2" stroke-linejoin="round"/>
<polygon points="389.2,1698.3 419.4,1728.5 389.2,1758.7 359.1,1728.5" fill="#FF8000" stroke="#FF8000" stroke-width="2" stroke-linejoin="round"/>
<polygon points="454.5,1664.9 484.7,1695.1 454.5,1725.3 424.3,1695.1" fill="#FF8000" stroke="#FF8000" stroke-width="2" stroke-linejoin="round"/>
<polygon points="585.0,1599.3 615.2,1629.5 585.0,1659.7 554.8,1629.5" fill="#FF8000" stroke="#FF8000" stroke-width="2" stroke-linejoin="round"/>
<polygon points="715.5,1526.7 745.7,1556.9 715.5,1587.1 685.3,1556.9" fill="#FF8000" stroke="#FF8000" stroke-width="2" stroke-linejoin="round"/>
<polygon points="911.2,1500.8 941.5,1531.0 911.2,1561.2 881.0,1531.0" fill="#FF8000" stroke="#FF8000" stroke-width="2" stroke-linejoin="round"/>
<polygon points="1890.0,1368.1 1920.2,1398.3 1890.0,1428.5 1859.8,1398.3" fill="#FF8000" stroke="#FF8000" stroke-width="2" stroke-linejoin="round"/>
<polygon points="290.4,1816.0 340.8,1786.9 340.8,1845.1" fill="#800080" stroke="#800080" stroke-width="2" stroke-linejoin="round"/>
<polygon points="306.7,1774.8 357.1,1745.7 357.1,1803.9" fill="#800080" stroke="#800080" stroke-width="2" stroke-linejoin="round"/>
<polygon points="323.0,1757.9 373.4,1728.8 373.4,1787.0" fill="#800080" stroke="#800080" stroke-width="2" stroke-linejoin="round"/>
<polygon points="355.6,1689.6 406.1,1660.5 406.1,1718.7" fill="#800080" stroke="#800080" stroke-width="2" stroke-linejoin="round"/>
<polygon points="420.9,1669.2 471.3,1640.1 471.3,1698.3" fill="#800080" stroke="#800080" stroke-width="2" stroke-linejoin="round"/>
<polygon points="551.4,1629.9 601.8,1600.8 601.8,1659.0" fill="#800080" stroke="#800080" stroke-width="2" stroke-linejoin="round"/>
<polygon points="681.9,1607.9 732.3,1578.8 732.3,1637.0" fill="#800080" stroke="#800080" stroke-width="2" stroke-linejoin="round"/>
<polygon points="877.6,1549.8 928.1,1520.7 928.1,1578.9" fill="#800080" stroke="#800080" stroke-width="2" stroke-linejoin="round"/>
<polygon points="1856.4,1430.5 1906.8,1401.4 1906.8,1459.6" fill="#800080" stroke="#800080" stroke-width="2" stroke-linejoin="round"/>
</g>
<line x1="349" y1="116" x2="543" y2="116" stroke="#000080" stroke-width="12" stroke-linecap="round"/>
<text x="564.5 625.7 655.1 676.6 720.1 743.0 785.9 823.8" y="144.3" font-size="89">Original</text>
<line x1="349" y1="222.4" x2="543" y2="222.4" stroke="#008000" stroke-width="12" stroke-linecap="round"/>
<text x="564.0 640.1 665.5 708.5 752.3 794.6 820.9 863.7" y="251.2" font-size="89">M-150-16</text>
<line x1="349" y1="329" x2="543" y2="329" stroke="#008080" stroke-width="12" stroke-linecap="round"/>
<text x="564.0 640.1 667.2 709.3 752.3 794.6 820.9 863.7" y="358.0" font-size="89">M-200-16</text>
<line x1="349" y1="436" x2="543" y2="436" stroke="#FF0080" stroke-width="12" stroke-linecap="round"/>
<text x="564.0 640.1 667.2 708.5 752.3 794.6 820.9 863.7" y="464.8" font-size="89">M-250-16</text>
<line x1="973" y1="222.6" x2="1167" y2="222.6" stroke="#FF8000" stroke-width="12" stroke-linecap="round"/>
<text x="1188.1 1264.1 1291.2 1332.5 1376.3 1418.6 1446.0 1488.3" y="251.2" font-size="89">M-250-48</text>
<line x1="973" y1="329.4" x2="1167" y2="329.4" stroke="#800080" stroke-width="12" stroke-linecap="round"/>
<text x="1188.1 1264.1 1291.2 1332.5 1376.3 1418.6 1444.5 1488.8" y="358.0" font-size="89">M-250-72</text>
</svg></body></html>
